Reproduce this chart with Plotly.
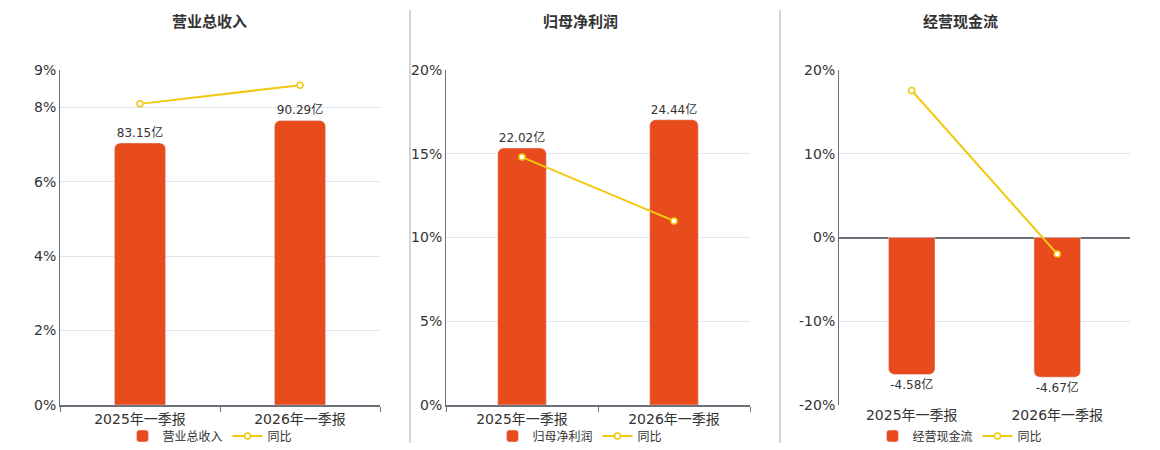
import plotly.graph_objects as go

categories = ["2025年一季报", "2026年一季报"]

titles = ["营业总收入", "归母净利润", "经营现金流"]
revenue = [83.15, 90.29]
revenue_yoy = [8.09, 8.59]
profit = [22.02, 24.44]
profit_yoy = [14.8, 10.99]
cash = [-4.58, -4.67]
cash_yoy = [17.55, -1.97]

bar_values = [revenue, profit, cash]
yoy_values = [revenue_yoy, profit_yoy, cash_yoy]
pct_ticks = [[0, 2, 4, 6, 8, 9], [0, 5, 10, 15, 20], [-20, -10, 0, 10, 20]]
pct_ranges = [[0, 9], [0, 20], [-20, 20]]
bar_ranges = [[0, 106.3], [0, 28.7], [-5.6, 5.6]]

W, H = 1160, 450
OFF = 8  # page body margin, positions below are page pixels
BAR = "#e84b1c"
LINE = "#f2c811"
AXIS = "#6e7079"
GRID = "#e0e6f1"
TXT = "#333333"
FONT = "DejaVu Sans, Noto Sans CJK SC, sans-serif"


def px(v):
    return (v - OFF) / W


def py(v):
    return 1 - (v - OFF) / H


x_doms = [(60, 380), (446, 750), (839, 1130)]
y_dom = [py(405), py(70)]
centers = [210, 580, 960]

fig = go.Figure()
layout = {}
for i in range(3):
    n = i + 1
    xa = "x" if n == 1 else f"x{n}"
    yb = f"y{2 * n - 1}" if n > 1 else "y"
    yp = f"y{2 * n}"
    leg = "legend" if n == 1 else f"legend{n}"

    fig.add_trace(go.Bar(
        x=categories, y=bar_values[i], name=titles[i],
        xaxis=xa, yaxis=yb, legend=leg,
        marker=dict(color=BAR, cornerradius=6),
        width=0.32,
        text=[f"{v}亿" for v in bar_values[i]],
        textposition="outside", cliponaxis=False, constraintext="none",
        textfont=dict(size=12, color=TXT, family=FONT),
        hoverinfo="skip",
    ))
    fig.add_trace(go.Scatter(
        x=categories, y=yoy_values[i], name="同比",
        xaxis=xa, yaxis=yp, legend=leg, mode="lines+markers",
        line=dict(color=LINE, width=2),
        marker=dict(size=6, color="white", line=dict(color=LINE, width=1.5)),
        hoverinfo="skip",
    ))

    layout["xaxis" if n == 1 else f"xaxis{n}"] = dict(
        domain=[px(x_doms[i][0]), px(x_doms[i][1])], anchor=yb, type="category",
        showline=(n != 3), linecolor=AXIS, linewidth=2,
        ticks="outside" if n != 3 else "", tickson="boundaries",
        ticklen=5, tickcolor=AXIS,
        tickfont=dict(size=14, color=TXT, family=FONT),
        showgrid=False, fixedrange=True, automargin=False,
    )
    layout["yaxis" if n == 1 else f"yaxis{2 * n - 1}"] = dict(
        domain=y_dom, anchor=xa, range=bar_ranges[i], visible=False,
        showgrid=False, zeroline=False, fixedrange=True,
    )
    layout[f"yaxis{2 * n}"] = dict(
        overlaying=yb, anchor=xa, side="left", range=pct_ranges[i],
        tickmode="array", tickvals=pct_ticks[i],
        ticktext=[f"{v}%" for v in pct_ticks[i]],
        showline=True, linecolor=AXIS, linewidth=1,
        showgrid=True, gridcolor=GRID, gridwidth=1,
        zeroline=(n == 3), zerolinecolor=AXIS, zerolinewidth=2,
        tickfont=dict(size=14, color=TXT, family=FONT),
        fixedrange=True, automargin=False,
    )
    layout[leg] = dict(
        orientation="h", x=px(centers[i]), xanchor="center",
        y=py(436), yanchor="middle",
        font=dict(size=12, color=TXT, family=FONT),
        bgcolor="rgba(0,0,0,0)", itemwidth=30,
    )

annotations = [
    dict(text=f"<b>{t}</b>", x=px(c), y=py(22), xref="paper", yref="paper",
         xanchor="center", yanchor="middle", showarrow=False,
         font=dict(size=15, color=TXT, family=FONT))
    for t, c in zip(titles, centers)
]
shapes = [
    dict(type="line", xref="paper", yref="paper", x0=px(sx), x1=px(sx),
         y0=py(10), y1=py(443), line=dict(color="#aaaaaa", width=1))
    for sx in (410, 780)
]

fig.update_layout(
    width=W, height=H,
    margin=dict(l=0, r=0, t=0, b=0, autoexpand=False),
    paper_bgcolor="white", plot_bgcolor="white",
    font=dict(family=FONT, color=TXT),
    barmode="group", showlegend=True,
    annotations=annotations, shapes=shapes,
    **layout,
)

fig.write_html("out.html")
